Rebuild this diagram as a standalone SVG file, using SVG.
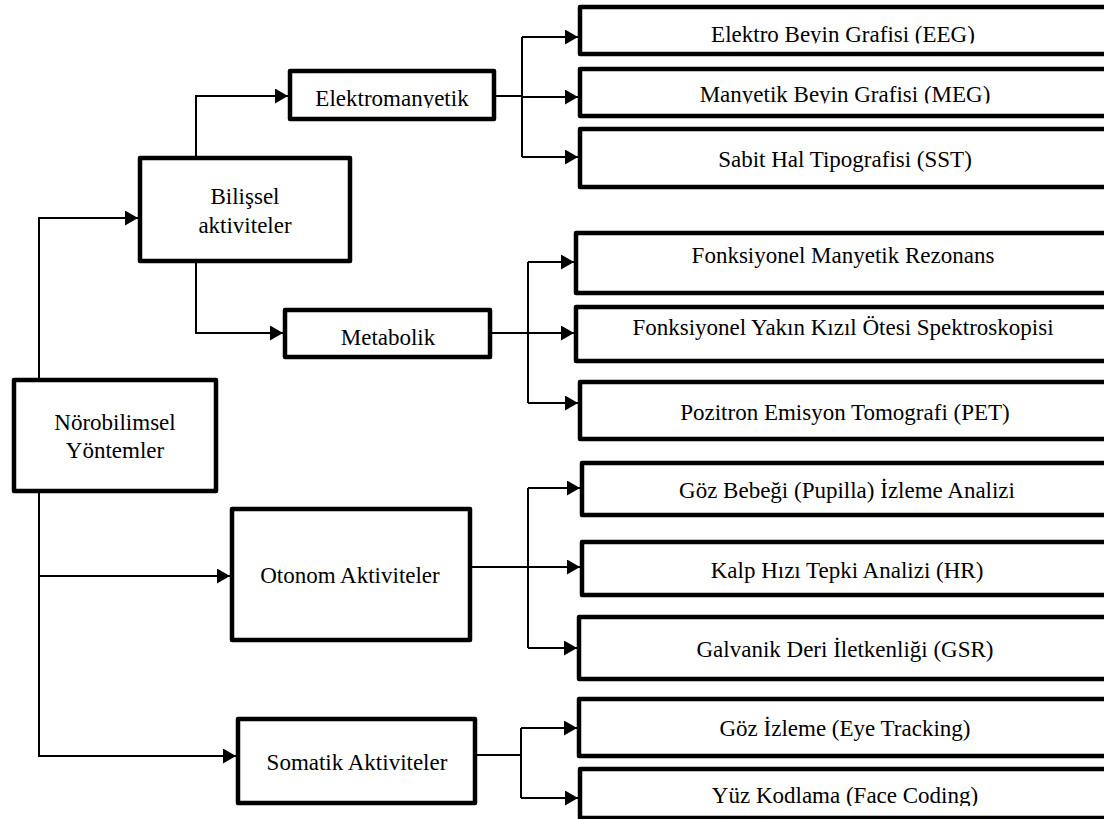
<svg xmlns="http://www.w3.org/2000/svg" width="1104" height="819" viewBox="0 0 1104 819">
<style>
.box{fill:#fff;stroke:#000;stroke-width:4.5;stroke-linejoin:round}
.lbl{font-family:"Liberation Serif","Times New Roman",serif;font-size:23px;fill:#000;text-anchor:middle}
.con{fill:none;stroke:#000;stroke-width:2}
.arr{fill:none;stroke:#000;stroke-width:2;marker-end:url(#ah)}
</style>
<defs>
<marker id="ah" markerUnits="userSpaceOnUse" markerWidth="13" markerHeight="15" refX="13" refY="7.5" orient="auto">
<path d="M0,0 L13,7.5 L0,15 z" fill="#000"/>
</marker>
<clipPath id="cElm"><rect x="290" y="71" width="204" height="37"/></clipPath>
<clipPath id="cEEG"><rect x="580" y="6" width="540" height="37.5"/></clipPath>
<clipPath id="cMEG"><rect x="580" y="69" width="540" height="34.5"/></clipPath>
<clipPath id="cYuz"><rect x="580" y="769" width="540" height="37"/></clipPath>
</defs>
<rect width="1104" height="819" fill="#fff"/>
<g id="connectors">
<path class="arr" d="M39,380 V218 H138"/>
<path class="arr" d="M39,493 V756 H236"/>
<path class="arr" d="M39,576 H230"/>
<path class="arr" d="M196,156 V96 H288"/>
<path class="arr" d="M196,263 V333 H283"/>
<path class="con" d="M496,96 H522 M522,37 V157"/>
<path class="arr" d="M522,37 H578"/>
<path class="arr" d="M522,97 H578"/>
<path class="arr" d="M522,157 H578"/>
<path class="con" d="M492,333 H528 M528,262 V403"/>
<path class="arr" d="M528,262 H574"/>
<path class="arr" d="M528,333 H574"/>
<path class="arr" d="M528,403 H578"/>
<path class="con" d="M472,567 H528 M528,488 V648"/>
<path class="arr" d="M528,488 H580"/>
<path class="arr" d="M528,567 H580"/>
<path class="arr" d="M528,648 H577"/>
<path class="con" d="M477,755 H521 M521,728 V798"/>
<path class="arr" d="M521,728 H577"/>
<path class="arr" d="M521,798 H578"/>
</g>
<g id="noro">
<rect class="box" x="14" y="380" width="202" height="111"/>
<text class="lbl" x="115" y="430">Nörobilimsel</text>
<text class="lbl" x="115" y="458">Yöntemler</text>
</g>
<g id="bilissel">
<rect class="box" x="140" y="158" width="210" height="103"/>
<text class="lbl" x="245" y="204">Bilişsel</text>
<text class="lbl" x="245" y="233">aktiviteler</text>
</g>
<g id="elektromanyetik">
<rect class="box" x="290" y="71" width="204" height="48"/>
<text class="lbl" x="392" y="106" clip-path="url(#cElm)">Elektromanyetik</text>
</g>
<g id="metabolik">
<rect class="box" x="285" y="310" width="205" height="47"/>
<text class="lbl" x="388" y="345">Metabolik</text>
</g>
<g id="otonom">
<rect class="box" x="232" y="509" width="238" height="131"/>
<text class="lbl" x="350" y="583">Otonom Aktiviteler</text>
</g>
<g id="somatik">
<rect class="box" x="238" y="719" width="237" height="84"/>
<text class="lbl" x="357" y="770">Somatik Aktiviteler</text>
</g>
<g id="eeg">
<rect class="box" x="580" y="7" width="540" height="47"/>
<text class="lbl" x="843" y="42" clip-path="url(#cEEG)">Elektro Beyin Grafisi (EEG)</text>
</g>
<g id="meg">
<rect class="box" x="580" y="69" width="540" height="47"/>
<text class="lbl" x="845" y="102" clip-path="url(#cMEG)">Manyetik Beyin Grafisi (MEG)</text>
</g>
<g id="sst">
<rect class="box" x="580" y="129" width="540" height="58"/>
<text class="lbl" x="845" y="167">Sabit Hal Tipografisi (SST)</text>
</g>
<g id="fmr">
<rect class="box" x="576" y="233" width="540" height="60"/>
<text class="lbl" x="843" y="263">Fonksiyonel Manyetik Rezonans</text>
</g>
<g id="fnirs">
<rect class="box" x="576" y="307" width="540" height="54"/>
<text class="lbl" x="843" y="335">Fonksiyonel Yakın Kızıl Ötesi Spektroskopisi</text>
</g>
<g id="pet">
<rect class="box" x="580" y="382" width="540" height="57"/>
<text class="lbl" x="845" y="420">Pozitron Emisyon Tomografi (PET)</text>
</g>
<g id="pupilla">
<rect class="box" x="582" y="463" width="540" height="52"/>
<text class="lbl" x="847" y="498">Göz Bebeği (Pupilla) İzleme Analizi</text>
</g>
<g id="hr">
<rect class="box" x="582" y="542" width="540" height="53"/>
<text class="lbl" x="847" y="578">Kalp Hızı Tepki Analizi (HR)</text>
</g>
<g id="gsr">
<rect class="box" x="579" y="617" width="540" height="62"/>
<text class="lbl" x="845" y="657">Galvanik Deri İletkenliği (GSR)</text>
</g>
<g id="eyetracking">
<rect class="box" x="579" y="699" width="540" height="57"/>
<text class="lbl" x="845" y="736">Göz İzleme (Eye Tracking)</text>
</g>
<g id="facecoding">
<rect class="box" x="580" y="769" width="540" height="49"/>
<text class="lbl" x="845" y="803" clip-path="url(#cYuz)">Yüz Kodlama (Face Coding)</text>
</g>
</svg>
